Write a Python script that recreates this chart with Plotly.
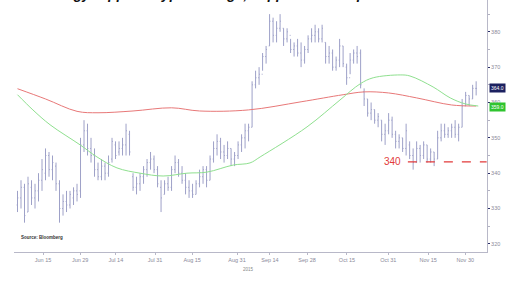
import plotly.graph_objects as go

# ---- data ----
bar_open = [331,333,336,329,336,333,335,338,340,345,341,342,337,330,332,331,333,335,335,348,
            352,347,345,341,339,342,340,344,348,346,347,348,351,339,336,337,339,341,343,344,
            341,336,334,337,336,341,343,340,338,336,335,334,337,339,341,338,344,347,349,346,
            345,347,344,345,348,350,352,353,365,367,368,373,376,383,379,381,381,378,379,375,
            376,374,372,375,378,379,380,378,377,373,374,370,372,376,370,367,372,374,374,363,
            361,357,358,355,355,351,352,355,351,349,350,347,348,345,343,347,345,348,344,346,
            344,350,352,351,352,353,351,353,359,362,361,364]
bar_high = [335,338,337,339,338,337,340,344,347,346,345,343,338,334,335,335,336,337,350,355,
            354,350,347,343,344,343,345,350,349,349,350,354,352,340,339,340,342,344,346,345,
            342,338,338,339,342,345,344,342,340,338,337,338,341,342,342,345,349,351,350,348,
            349,347,346,349,351,354,354,366,369,370,374,376,385,384,383,385,381,381,378,377,
            378,377,376,379,381,382,381,382,377,376,375,373,378,376,371,374,375,376,375,364,
            361,360,358,357,355,354,357,356,352,351,350,354,349,347,349,348,349,348,347,346,
            352,354,354,353,354,355,354,361,363,362,365,366]
bar_low = [329,330,326,329,331,330,332,335,338,339,338,335,326,328,329,330,331,332,333,346,
           345,343,339,338,338,338,339,343,344,345,345,345,345,335,334,335,337,339,341,340,
           336,329,334,335,335,340,339,337,334,333,333,334,336,337,336,338,343,345,344,343,
           344,342,342,344,346,347,349,353,364,365,369,371,376,377,377,380,376,377,374,373,
           373,370,371,374,377,377,377,377,371,371,369,369,370,370,365,368,371,371,364,359,
           356,355,354,353,349,348,351,350,347,347,346,345,344,341,343,343,344,343,343,342,
           344,349,350,350,350,350,349,353,359,359,361,362]
bar_close = [333,336,328,337,333,335,338,341,345,341,343,337,330,332,331,334,335,334,348,352,
             347,345,341,339,342,340,343,349,345,347,348,352,346,336,337,339,341,343,344,341,
             337,333,337,336,341,343,340,338,336,335,334,337,339,341,338,344,347,349,346,345,
             347,344,345,348,350,352,353,365,367,368,373,375,383,379,381,383,378,380,375,376,
             374,372,375,378,379,380,378,381,373,374,370,372,376,371,367,372,374,373,365,361,
             357,358,355,356,351,352,355,351,349,350,347,352,345,343,347,345,348,344,346,344,
             350,352,351,352,353,351,353,359,362,361,364,364]
bar_index = list(range(len(bar_close)))

ma_long_x = [0, 8, 17, 23, 33, 44, 52, 66, 81, 93, 99, 106, 114, 124, 131]
ma_long = [363.9, 361.0, 357.5, 357.1, 357.6, 358.5, 357.6, 357.9, 360.2, 362.2, 363.0, 362.7, 361.3, 359.3, 359.0]
ma_short_x = [0, 4.4, 9.3, 17.9, 22.7, 28.4, 35, 41.6, 48.4, 54.1, 61.6, 66.4, 69.3, 82.7, 92.1,
              97.9, 101.6, 109.3, 112.1, 118.7, 123.6, 127.9, 131.6]
ma_short = [362.2, 357.9, 353.7, 348.0, 344.6, 341.5, 340.0, 339.2, 340.0, 340.3, 342.3, 342.9, 344.6,
            353.1, 360.7, 365.3, 367.0, 367.8, 367.5, 364.4, 361.3, 359.6, 359.0]

support_level = 343.2
support_label = "340"
support_start = 111.5

tick_pos = [7.3, 17.9, 28.1, 39.3, 49.9, 62.7, 72.1, 82.7, 94.1, 105.9, 117.3, 127.9]
tick_text = ["Jun 15", "Jun 29", "Jul 14", "Jul 31", "Aug 15", "Aug 31",
             "Sep 14", "Sep 28", "Oct 15", "Oct 31", "Nov 15", "Nov 30"]
y_ticks = [320, 330, 340, 350, 360, 370, 380]

last_price = 364.0
last_ma = 359.0

fig = go.Figure()
fig.add_trace(go.Scatter(x=ma_long_x, y=ma_long, mode="lines", line=dict(color="#e87878", width=1, shape="spline"),
                         hoverinfo="skip", showlegend=False))
fig.add_trace(go.Scatter(x=ma_short_x, y=ma_short, mode="lines", line=dict(color="#8fe08f", width=1, shape="spline"),
                         hoverinfo="skip", showlegend=False))
fig.add_trace(go.Ohlc(x=bar_index, open=bar_open, high=bar_high, low=bar_low, close=bar_close,
                      increasing=dict(line=dict(color="#9ea1c8", width=1)),
                      decreasing=dict(line=dict(color="#9ea1c8", width=1)),
                      tickwidth=0.25, showlegend=False))
fig.add_trace(go.Scatter(x=[support_start, 134], y=[support_level, support_level], mode="lines",
                         line=dict(color="#e23a3a", width=1.2, dash="dash"), showlegend=False, hoverinfo="skip"))

fig.add_annotation(x=support_start - 1.5, y=support_level, text=support_label, showarrow=False,
                   xanchor="right", yanchor="middle", font=dict(color="#e23a3a", size=10, family="Liberation Sans"))

# price tags on the axis
fig.add_annotation(xref="paper", x=1, y=last_price, text="364.0", showarrow=False, xanchor="left", xshift=2,
                   bgcolor="#1c2160", font=dict(color="white", size=5, family="Liberation Sans"), borderpad=1)
fig.add_annotation(xref="paper", x=1, y=last_ma, text="359.0", showarrow=False, xanchor="left", xshift=2, yshift=-1,
                   bgcolor="#2fc42f", font=dict(color="white", size=5, family="Liberation Sans"), borderpad=1)

# clipped title
fig.add_annotation(xref="paper", yref="paper", x=0.0, y=1, xanchor="left", yanchor="bottom", yshift=-4, xshift=-4,
                   text="<b><i>Technology: Apple in typical range, support holds up</i></b>",
                   showarrow=False, font=dict(color="#111111", size=14, family="Liberation Sans"))

fig.add_annotation(xref="paper", yref="paper", x=0.01, y=0.04, xanchor="left", yanchor="bottom",
                   text="<b>Source: Bloomberg</b>", showarrow=False,
                   font=dict(color="#333333", size=4.5, family="Liberation Sans"))
fig.add_annotation(xref="x", yref="paper", x=66, y=0, xanchor="center", yanchor="top", yshift=-13,
                   text="2015", showarrow=False, font=dict(color="#888888", size=4.5, family="Liberation Sans"))

fig.update_layout(
    width=517, height=288, margin=dict(l=14, r=30, t=0, b=36),
    paper_bgcolor="white", plot_bgcolor="white",
    xaxis=dict(range=[-1, 134.1], tickvals=tick_pos, ticktext=tick_text, showgrid=False, zeroline=False,
               showline=True, linecolor="#b8b8c8", linewidth=1, ticks="outside", ticklen=2, tickcolor="#b8b8c8",
               tickfont=dict(size=5.5, color="#8a8a9a", family="Liberation Sans"),
               rangeslider=dict(visible=False)),
    yaxis=dict(side="right", range=[317.7, 389.0], tickvals=y_ticks, showgrid=False, zeroline=False,
               showline=True, linecolor="#b8b8c8", linewidth=1, ticks="outside", ticklen=2, tickcolor="#2a2f6a",
               tickfont=dict(size=5.5, color="#8a8a9a", family="Liberation Sans"),
               minor=dict(ticks="outside", ticklen=2, tickcolor="#b0b0c0", dtick=5)),
)

fig.write_html("out.html", config={"displayModeBar": False},
               post_script="document.body.style.margin='0';")
